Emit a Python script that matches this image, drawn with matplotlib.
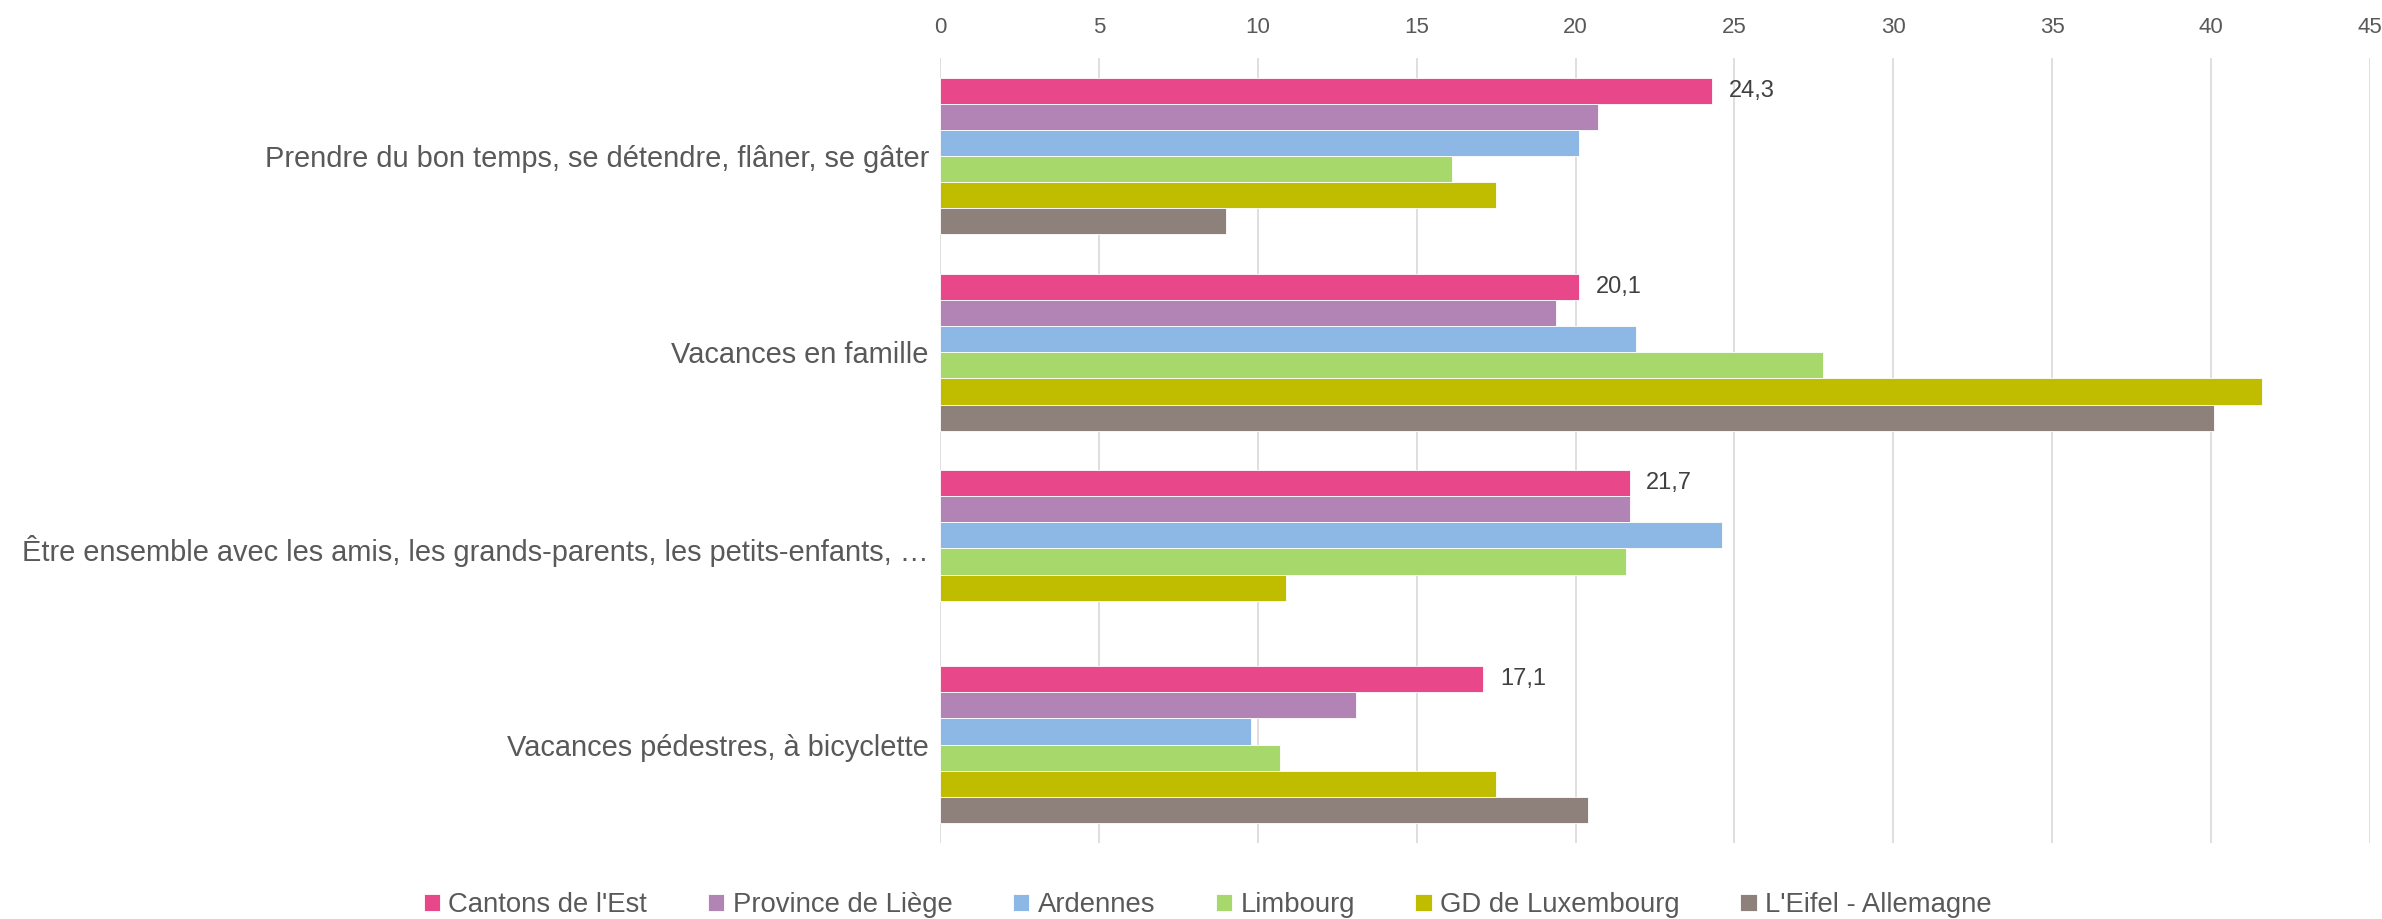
import matplotlib

matplotlib.use("Agg")
import matplotlib.pyplot as plt
import numpy as np

categories = [
    "Prendre du bon temps, se détendre, flâner, se gâter",
    "Vacances en famille",
    "Être ensemble avec les amis, les grands-parents, les petits-enfants, …",
    "Vacances pédestres, à bicyclette",
]
series_names = [
    "Cantons de l'Est",
    "Province de Liège",
    "Ardennes",
    "Limbourg",
    "GD de Luxembourg",
    "L'Eifel - Allemagne",
]
cantons = [24.3, 20.1, 21.7, 17.1]
province = [20.7, 19.4, 21.7, 13.1]
ardennes = [20.1, 21.9, 24.6, 9.8]
limbourg = [16.1, 27.8, 21.6, 10.7]
luxembourg = [17.5, 41.6, 10.9, 17.5]
eifel = [9.0, 40.1, np.nan, 20.4]
x_ticks = [0, 5, 10, 15, 20, 25, 30, 35, 40, 45]

colors = ["#E8478A", "#B283B5", "#8DB8E5", "#A6D86C", "#C0BD00", "#8E807B"]
text_color = "#595959"

plt.rcParams["font.family"] = ["Liberation Sans", "DejaVu Sans"]

fig = plt.figure(figsize=(23.82, 9.19), dpi=100)
ax = fig.add_axes([0.3946, 0.083, 0.6004, 0.854])

values = [cantons, province, ardennes, limbourg, luxembourg, eifel]
n = len(series_names)
group_span = 0.8
bar_h = group_span / n
y = np.arange(len(categories))

for i, (name, vals, col) in enumerate(zip(series_names, values, colors)):
    pos = y - group_span / 2 + bar_h * (i + 0.5)
    bars = ax.barh(pos, vals, height=bar_h, color=col, label=name,
                   edgecolor="white", linewidth=0.6)
    if i == 0:
        for b, v in zip(bars, vals):
            ax.annotate(f"{v:.1f}".replace(".", ","),
                        (b.get_width(), b.get_y() + b.get_height() / 2),
                        xytext=(12, 0), textcoords="offset points",
                        va="center", ha="left", fontsize=17, color="#404040")

ax.set_xlim(0, 45)
ax.set_ylim(len(categories) - 0.5, -0.5)
ax.set_xticks(x_ticks)
ax.set_xticklabels([str(t) for t in x_ticks])
ax.xaxis.tick_top()
ax.tick_params(axis="x", length=0, labelsize=16, colors=text_color, pad=14)
ax.set_yticks(y)
ax.set_yticklabels(categories)
ax.tick_params(axis="y", length=0, labelsize=20.9, colors=text_color, pad=8)
ax.grid(axis="x", color="#D9D9D9", linewidth=1.2)
ax.set_axisbelow(True)
for s in ax.spines.values():
    s.set_visible(False)

fig.legend(loc="lower center", bbox_to_anchor=(0.507, -0.026), ncol=6,
           frameon=False, fontsize=19.8, labelcolor=text_color,
           handlelength=0.6, handleheight=0.6, handletextpad=0.3,
           columnspacing=2.2)

fig.savefig("out.png", dpi=100, facecolor="white")
